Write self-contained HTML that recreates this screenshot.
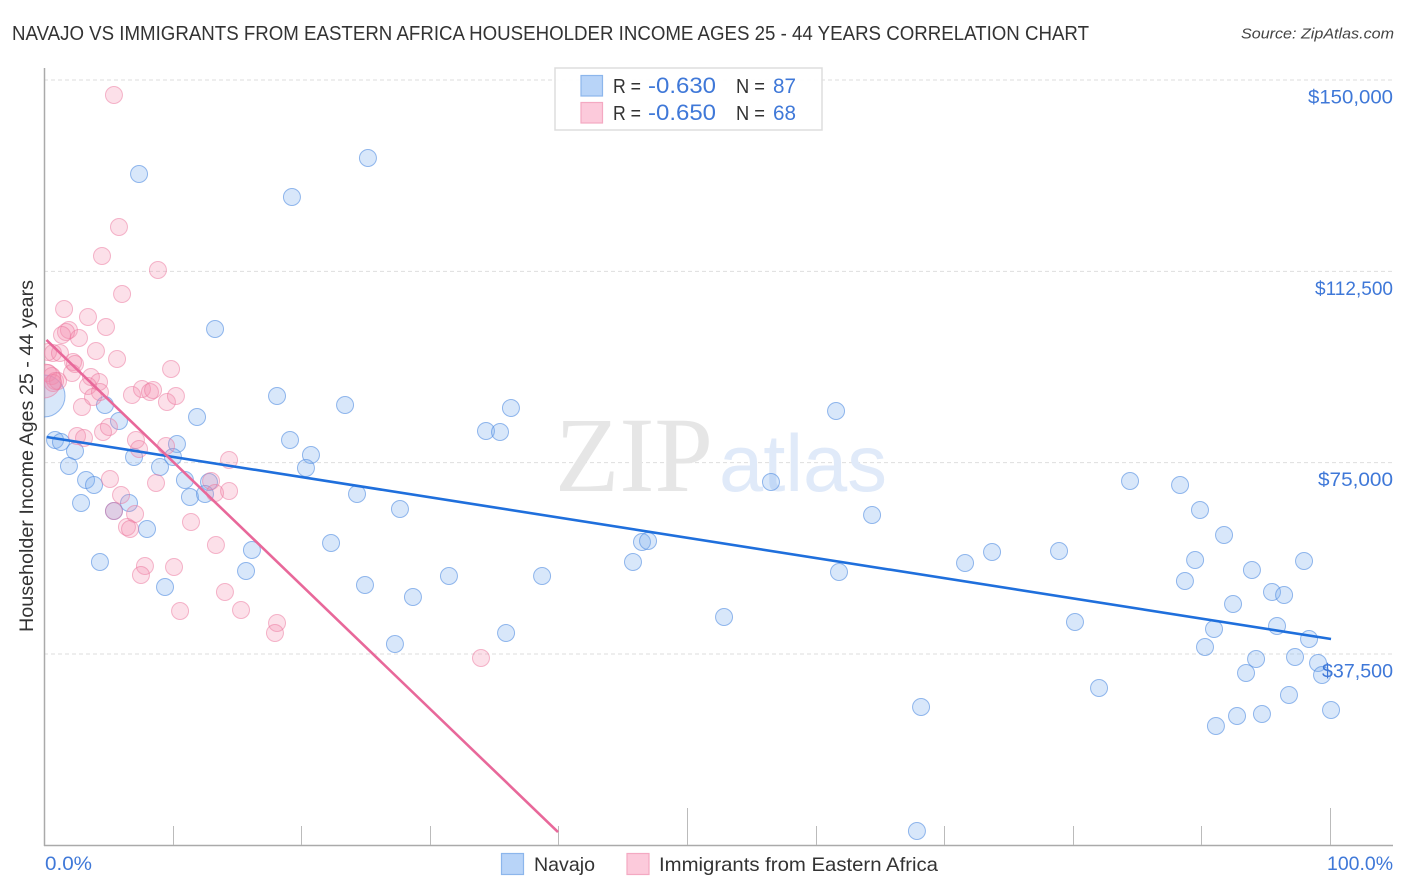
<!DOCTYPE html>
<html lang="en">
<head>
<meta charset="utf-8">
<title>Navajo vs Immigrants from Eastern Africa Householder Income Correlation Chart</title>
<style>
html,body{margin:0;padding:0;background:#fff;width:1406px;height:892px;overflow:hidden}
svg{display:block;font-family:"Liberation Sans",Arial,sans-serif}
</style>
</head>
<body>
<svg id="chart" xmlns="http://www.w3.org/2000/svg" width="1406" height="892" viewBox="0 0 1406 892">
  <defs>
    <clipPath id="plot-clip"><rect x="44" y="60" width="1362" height="786"/></clipPath>
  </defs>
  <rect width="1406" height="892" fill="#fff"/>
  <text x="12" y="40" font-size="20" fill="#333" textLength="1077" lengthAdjust="spacingAndGlyphs">NAVAJO VS IMMIGRANTS FROM EASTERN AFRICA HOUSEHOLDER INCOME AGES 25 - 44 YEARS CORRELATION CHART</text>
  <text x="1241" y="38.5" font-size="15" font-style="italic" fill="#444" textLength="153" lengthAdjust="spacingAndGlyphs">Source: ZipAtlas.com</text>
  <g id="grid"></g>
  <g>
    <text x="555" y="491" font-family="'Liberation Serif',serif" font-size="107" fill="#e6e6e6" textLength="158" lengthAdjust="spacingAndGlyphs">ZIP</text>
    <text x="719" y="491" font-size="81" fill="#e0eaf9" textLength="168" lengthAdjust="spacingAndGlyphs">atlas</text>
  </g>
  <g id="axes">
    <line x1="44.5" y1="68" x2="44.5" y2="846" stroke="#aaa" stroke-width="1.5"/>
    <line x1="44" y1="845.5" x2="1393" y2="845.5" stroke="#aaa" stroke-width="1.5"/>
  </g>
  <g id="points-navajo" clip-path="url(#plot-clip)"></g>
  <g id="points-immigrants" clip-path="url(#plot-clip)"></g>
  <g id="trends"></g>
  <g id="y-labels"></g>
  <text transform="translate(33,456) rotate(-90)" text-anchor="middle" font-size="19" fill="#333" textLength="352" lengthAdjust="spacingAndGlyphs">Householder Income Ages 25 - 44 years</text>
  <text x="45" y="870" font-size="19" fill="#3f78d8" textLength="47" lengthAdjust="spacingAndGlyphs">0.0%</text>
  <text x="1327" y="870" font-size="19" fill="#3f78d8" textLength="66" lengthAdjust="spacingAndGlyphs">100.0%</text>

  <g>
    <rect x="555" y="68" width="267" height="62" fill="#fff" fill-opacity="0.92" stroke="#ddd" stroke-width="1.5"/>
    <rect x="581" y="75.5" width="21.5" height="20.5" fill="#b8d4f8" stroke="#8cb6ec" stroke-width="1.2"/>
    <rect x="581" y="102.5" width="21.5" height="20.5" fill="#fccadb" stroke="#f4a9c2" stroke-width="1.2"/>
    <text x="613" y="93" font-size="20" fill="#333" textLength="28" lengthAdjust="spacingAndGlyphs">R =</text>
    <text x="648" y="93" font-size="22" fill="#3f78d8" textLength="68" lengthAdjust="spacingAndGlyphs">-0.630</text>
    <text x="736" y="93" font-size="20" fill="#333" textLength="29" lengthAdjust="spacingAndGlyphs">N =</text>
    <text x="773" y="93" font-size="21" fill="#3f78d8" textLength="23" lengthAdjust="spacingAndGlyphs">87</text>
    <text x="613" y="120" font-size="20" fill="#333" textLength="28" lengthAdjust="spacingAndGlyphs">R =</text>
    <text x="648" y="120" font-size="22" fill="#3f78d8" textLength="68" lengthAdjust="spacingAndGlyphs">-0.650</text>
    <text x="736" y="120" font-size="20" fill="#333" textLength="29" lengthAdjust="spacingAndGlyphs">N =</text>
    <text x="773" y="120" font-size="21" fill="#3f78d8" textLength="23" lengthAdjust="spacingAndGlyphs">68</text>
  </g>

  <g>
    <g>
      <rect x="501.5" y="853.5" width="22" height="21" fill="#b8d4f8" stroke="#8cb6ec" stroke-width="1.2"/>
      <text x="534" y="871" font-size="19.5" fill="#333" textLength="61" lengthAdjust="spacingAndGlyphs">Navajo</text>
    </g>
    <g>
      <rect x="627" y="853.5" width="22" height="21" fill="#fccadb" stroke="#f4a9c2" stroke-width="1.2"/>
      <text x="659" y="871" font-size="19.5" fill="#333" textLength="279" lengthAdjust="spacingAndGlyphs">Immigrants from Eastern Africa</text>
    </g>
  </g>
</svg>
<script>
const yTickValues = [150000, 112500, 75000, 37500];
const yTickLabels = ["$150,000", "$112,500", "$75,000", "$37,500"];
const xTickValues = [0, 10, 20, 30, 40, 50, 60, 70, 80, 90, 100];
const xMajorTicks = [0, 50, 100];

const navajoX = [7.39,25.19,19.28,13.30,18.12,23.41,36.31,61.59,11.90,5.83,4.74,0.86,1.32,2.41,1.94,10.34,10.03,9.02,7.00,19.13,20.76,20.37,34.37,35.46,10.96,12.83,11.35,12.52,3.27,3.89,2.88,6.61,5.44,8.01,24.34,27.68,56.53,84.45,88.34,89.89,91.76,64.39,46.50,46.97,22.32,16.17,15.71,4.35,9.41,24.96,31.49,38.73,45.80,28.69,27.29,35.93,52.88,61.82,71.62,73.72,78.93,80.17,82.04,68.20,67.88,89.51,88.72,93.93,97.98,95.49,96.43,92.46,90.98,95.88,98.37,90.28,94.25,97.28,99.07,99.38,93.47,96.81,100.08,94.71,92.77,91.13,0];
const navajoIncome = [131580,134716,127072,101200,88068,86304,85716,85128,83952,83168,86304,79444,79052,77288,74348,78660,76112,74152,76112,79444,76504,73956,81208,81012,71604,71212,68272,68860,71604,70624,67096,67096,65528,62000,68860,65920,71212,71408,70624,65724,60824,64744,59452,59648,59256,57884,53768,55532,50632,51024,52788,52788,55532,48672,39460,41616,44752,53572,55336,57492,57688,43772,30836,27112,2808,55924,51808,53964,55728,49652,49064,47300,42400,42988,40440,38872,36520,36912,35736,33384,33776,29464,26524,25740,25348,23388,88068];

const immigrantsX = [5.44,5.83,4.51,8.86,6.07,1.56,3.42,4.82,1.94,1.71,1.40,2.72,4.04,5.68,0.70,0.31,1.24,2.26,2.41,2.18,0.31,0.62,9.88,3.65,4.28,3.42,4.35,3.81,0.86,1.09,0.70,0,6.84,7.62,8.24,8.48,9.56,10.26,2.95,2.57,3.11,4.59,5.05,7.15,7.39,9.49,14.39,5.13,8.71,5.99,7.08,5.44,6.45,6.69,11.43,12.99,13.30,14.39,13.37,7.85,7.54,10.11,14.07,15.32,10.58,18.12,17.96,33.98];
const immigrantsIncome = [147064,121192,115508,112764,108060,105120,103552,101592,101004,100612,100024,99436,96888,95320,96496,96692,96496,94732,94340,92576,92576,91988,93360,91792,90812,90028,88852,87872,91008,91008,90616,91008,88264,89440,88852,89244,86892,88068,85912,80228,79836,81012,81992,79444,77680,78268,75524,71800,71016,68664,64940,65528,62392,62000,63372,71408,69056,69448,58864,54748,52984,54552,49652,46124,45928,43576,41616,36716];

const navajoTrendX = [0.2, 100.08];
const navajoTrendIncome = [80032, 40440];
const immigrantsTrendX = [0.19, 39.97];
const immigrantsTrendIncome = [99044, 2612];

const navajoLargestIndex = 86;
const immigrantsLargestIndex = 31;

const SVGNS = "http://www.w3.org/2000/svg";
function xScale(v) { return 44 + v * 12.86; }
function yScale(v) { return 654 - (v - 37500) * 191.33 / 37500; }
function make(tag, parent, attrs) {
  const el = document.createElementNS(SVGNS, tag);
  for (const k in attrs) el.setAttribute(k, attrs[k]);
  parent.appendChild(el);
  return el;
}
function labelWidth(text) {
  if (text === "$150,000") return 85;
  if (text === "$112,500") return 78;
  if (text === "$75,000") return 75;
  return 71;
}

const gridGroup = document.getElementById("grid");
const labelGroup = document.getElementById("y-labels");
yTickValues.forEach(function (v, i) {
  const y = yScale(v);
  const line = make("line", gridGroup, { x1: 44, x2: 1393, y1: y, y2: y, stroke: "#dedede", "stroke-width": 1, "stroke-dasharray": "4 3" });
  
  
  const label = make("text", labelGroup, { x: 1393, y: y + 23.5, "text-anchor": "end", "font-size": 19, fill: "#3f78d8", textLength: labelWidth(yTickLabels[i]), lengthAdjust: "spacingAndGlyphs" });
  
  
  label.textContent = yTickLabels[i];
});

const axesGroup = document.getElementById("axes");
xTickValues.forEach(function (v) {
  if (v === 0) return;
  const x = Math.round(xScale(v)) + 0.5;
  const top = xMajorTicks.indexOf(v) >= 0 ? 808 : 826;
  const tick = make("line", axesGroup, { x1: x, x2: x, y1: top, y2: 845, stroke: "#bbb", "stroke-width": 1 });
  
  
});

function drawPoints(groupId, xs, ys, largest, fill, stroke, largeRadius) {
  const group = document.getElementById(groupId);
  xs.forEach(function (xv, i) {
    const c = make("circle", group, {
      cx: xScale(xv), cy: yScale(ys[i]),
      r: i === largest ? largeRadius : 8.5,
      fill: fill, stroke: stroke, "stroke-width": 1
    });
    
    
  });
}
drawPoints("points-navajo", navajoX, navajoIncome, navajoLargestIndex, "rgba(125,175,240,0.30)", "rgba(80,140,225,0.6)", 21);
drawPoints("points-immigrants", immigrantsX, immigrantsIncome, immigrantsLargestIndex, "rgba(245,140,175,0.27)", "rgba(235,115,155,0.5)", 17);

const trendGroup = document.getElementById("trends");
const navajoTrend = make("line", trendGroup, { x1: xScale(navajoTrendX[0]), y1: yScale(navajoTrendIncome[0]), x2: xScale(navajoTrendX[1]), y2: yScale(navajoTrendIncome[1]), stroke: "#1f6fdc", "stroke-width": 2.6 });


const immigrantsTrend = make("line", trendGroup, { x1: xScale(immigrantsTrendX[0]), y1: yScale(immigrantsTrendIncome[0]), x2: xScale(immigrantsTrendX[1]), y2: yScale(immigrantsTrendIncome[1]), stroke: "#e8689a", "stroke-width": 2.6 });


</script>
</body>
</html>
